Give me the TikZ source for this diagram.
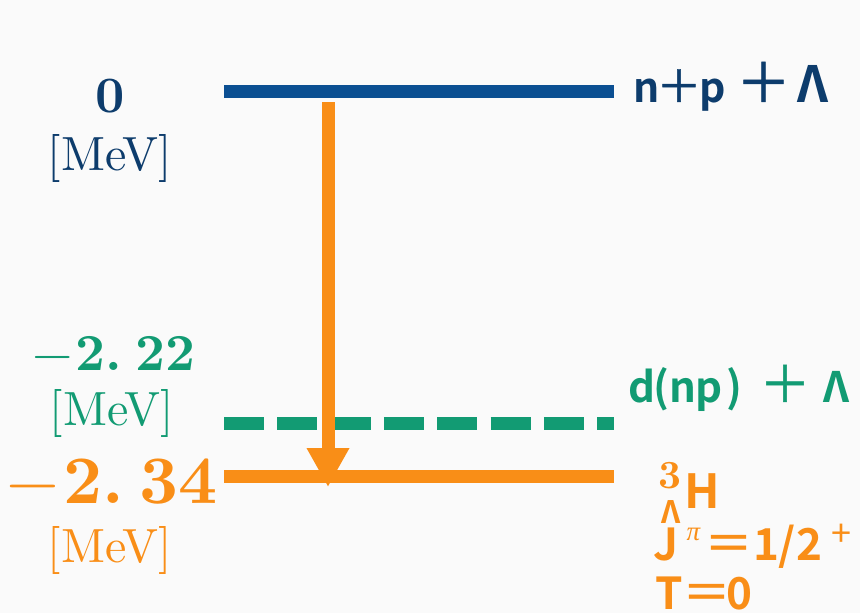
\documentclass[tikz,border=0pt]{standalone}
\usepackage{fontspec}
\setmainfont{lmroman10-regular.otf}[BoldFont=lmroman10-bold.otf]
\newfontfamily\jp{Noto Sans CJK JP}[BoldFont=* Bold]
\newfontfamily\jpop{Noto Sans CJK JP}[FakeBold=1]
\newfontfamily\grk{Liberation Serif}
\usetikzlibrary{arrows.meta}
\definecolor{navyline}{HTML}{0B4F92}
\definecolor{navytxt}{HTML}{0D3C6C}
\definecolor{mygreen}{HTML}{129B73}
\definecolor{myorange}{HTML}{F98E17}
\definecolor{bgc}{HTML}{FAFAFA}
\newcommand{\fs}[1]{\fontsize{#1}{#1}\selectfont}
\newcommand{\bx}[2]{\makebox[#1pt][c]{#2}}
\newcommand{\op}[2]{\raisebox{-0.5pt}{\jpop\mdseries\fs{#1}#2}}
\begin{document}
\begin{tikzpicture}[x=1pt,y=-1pt,
  level/.style={line width=13pt},
  txt/.style={inner sep=0pt,outer sep=0pt},
  sans/.style={txt,anchor=base west,font=\jp\bfseries\fs{#1}}]
\fill[bgc] (0,0) rectangle (860,613);
\useasboundingbox (0,0) rectangle (860,613);
% levels
\coordinate (b1) at (224,91);   \coordinate (b2) at (614,91);
\coordinate (g1) at (224,423.5); \coordinate (g2) at (614,423.5);
\coordinate (o1) at (224,476.5); \coordinate (o2) at (614,476.5);
\draw[level,navyline] (b1) -- (b2);
\draw[level,mygreen,dash pattern=on 40pt off 13.33pt] (g1) -- (g2);
\draw[level,myorange] (o1) -- (o2);
% transition arrow
\coordinate (aS) at (328,102); \coordinate (aE) at (328,487);
\draw[line width=13pt,myorange,-{Triangle[width=40pt,length=39pt]}] (aS) -- (aE);
% left labels
\node[txt,anchor=base,navytxt,font=\fs{51}\bfseries] (e1) at (110,112) {0};
\node[txt,anchor=base,navytxt,font=\fs{48}] (u1) at (110,170) {[MeV]};
\node[txt,anchor=base,mygreen,font=\fs{52}\bfseries] (e2) at (114,370) {{\mdseries −}\hspace{0.05em}2.\hspace{0.25em}22};
\node[txt,anchor=base,mygreen,font=\fs{48}] (u2) at (112,425) {[MeV]};
\node[txt,anchor=base,myorange,font=\fs{68}\bfseries] (e3) at (112,503) {{\mdseries −}\hspace{0.07em}2.\hspace{0.22em}34};
\node[txt,anchor=base,myorange,font=\fs{48}] (u3) at (110,562) {[MeV]};
% right labels
\node[sans=41,navytxt] (l1) at (630,102)
  {\bx{33}{n}\bx{32}{\op{45}{＋}}\bx{35}{p}\bx{67}{\op{55}{＋}}\bx{31}{\fs{50}Λ}};
\node[sans=42,mygreen] (l2) at (628,402)
  {\bx{28}{d}\bx{10}{(}\bx{33}{n}\bx{20}{p}\bx{30}{)}\bx{72}{\op{51}{＋}}\bx{30}{Λ}};
\node[txt,anchor=base,myorange,font=\fs{40}\bfseries] (t3) at (670,488) {3};
\node[txt,anchor=base,myorange,font=\jp\bfseries\fs{47}] (tH) at (702.5,508) {H};
\node[txt,anchor=base,myorange,font=\jp\bfseries\fs{31}] (tL) at (671,523) {Λ};
\node[sans=44,myorange] (tJ) at (650,560)
  {\bx{32}{J}\bx{23}{\raisebox{20pt}{\grk\itshape\mdseries\fs{27}π}}\bx{47}{\op{48}{＝}}\bx{71}{1/2}\bx{36}{\raisebox{14pt}{\mdseries\fs{36}+}}};
\node[sans=44,myorange] (tT) at (650,609) {\bx{38}{T}\bx{37}{\op{48}{＝}}\bx{29}{0}};
\end{tikzpicture}
\end{document}
